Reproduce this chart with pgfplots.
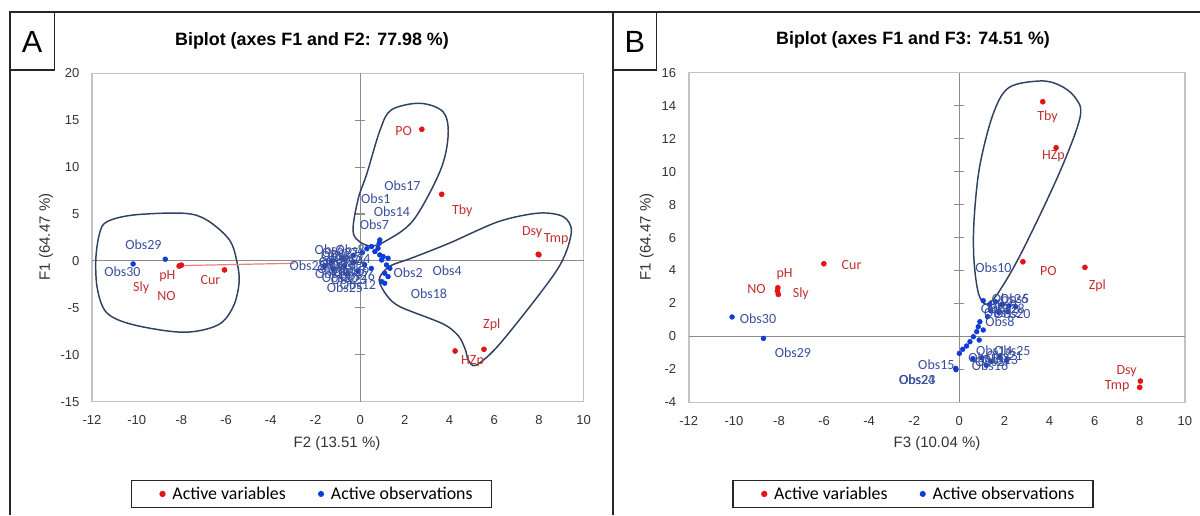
\documentclass[border=0pt]{standalone}
\usepackage{pgfplots}
\pgfplotsset{compat=1.18}
\usepackage{fontspec}
\setmainfont{Carlito}
\newfontfamily\arial{Liberation Sans}
\definecolor{varred}{RGB}{228,20,20}
\definecolor{varlab}{RGB}{196,48,48}
\definecolor{obsblue}{RGB}{16,60,214}
\definecolor{obslab}{RGB}{58,80,158}
\definecolor{loopc}{RGB}{48,66,98}
\definecolor{framegray}{RGB}{195,195,195}
\definecolor{axgray}{RGB}{140,140,140}
\tikzset{loopst/.style={loopc, line width=1.1pt}, axln/.style={axgray, line width=0.8pt}}
\pgfplotsset{
  biplot/.style={
    anchor=south west, scale only axis, clip=false,
    axis line style={framegray, line width=1.1pt},
    tick style={draw=none}, major tick length=0pt,
    tick label style={font=\arial\fontsize{9.75}{10}\selectfont, text=black!80},
    /pgf/number format/assume math mode=true,
    xticklabel style={yshift=-7pt},
    yticklabel style={xshift=-6pt},
    legend columns=2,
    legend cell align=left,
    legend image code/.code={\path (-12pt,0pt) (4pt,0pt); \draw[##1] plot coordinates {(0pt,0pt)};},
    legend style={anchor=center, draw=black!85, line width=0.9pt,
      font=\fontsize{13.4}{14}\selectfont, inner xsep=11pt, inner ysep=2.5pt,
      nodes={inner xsep=3pt},
      /tikz/every even column/.append style={column sep=11pt}},
  },
  obslabs/.style={only marks, mark=none, forget plot, nodes near coords, point meta=explicit symbolic,
    nodes near coords style={anchor=center, inner sep=0pt, font=\fontsize{10.5}{10.5}\selectfont, text=obslab}},
  varlabs/.style={only marks, mark=none, forget plot, nodes near coords, point meta=explicit symbolic,
    nodes near coords style={anchor=center, inner sep=0pt, font=\fontsize{10.5}{10.5}\selectfont, text=varlab}},
}
\begin{document}
\begin{tikzpicture}[x=1pt,y=1pt]
\path[use as bounding box] (0,0) rectangle (900,386.25);
\fill[white] (0,0) rectangle (900,386.25);
% ---------------- Panel A ----------------
\begin{axis}[biplot, at={(69pt,85pt)}, width=368.7pt, height=246.3pt,
  xmin=-12, xmax=10, ymin=-15, ymax=20,
  xtick={-12,-10,...,10}, ytick={-15,-10,...,20},
  legend style={at={(0.446,-0.281)}}]
\draw[axln] (axis cs:0,-15) -- (axis cs:0,20);
\draw[axln] (axis cs:-12,0) -- (axis cs:10,0);
\pgfplotsinvokeforeach{-10,-5,5,10,15}{\draw[axln] ([xshift=-3.75pt]axis cs:0,#1) -- ([xshift=3.75pt]axis cs:0,#1);}
% loops
\draw[loopst] plot[smooth cycle, tension=0.55] coordinates {(-11.32,4.19) (-10.12,4.90) (-7.90,5.08) (-6.87,4.37) (-5.85,2.24) (-5.50,-0.25) (-5.42,-2.38) (-5.68,-4.87) (-6.36,-6.82) (-7.90,-7.60) (-10.12,-6.82) (-11.32,-5.57) (-11.75,-3.09) (-11.83,0.11) (-11.66,2.95)};
\draw[loopst] plot[smooth cycle, tension=0.55] coordinates {(2.67,16.8) (3.71,15.9) (3.94,13.5) (3.6,9.7) (2.4,4.4) (1.2,2.2) (0.4,1.6) (-0.3,2.9) (-0.1,6.5) (0.3,9.3) (0.9,14.0) (1.4,16.1)};
\draw[loopst] plot[smooth cycle, tension=0.5] coordinates {(0.85,-2.0) (1.3,-0.6) (2.3,0.3) (4.0,1.9) (6.2,4.2) (8.0,5.1) (9.1,4.7) (9.45,3.0) (8.8,-1.0) (6.3,-8.7) (5.2,-11.1) (4.85,-10.6) (4.7,-9.4) (4.4,-8.0) (3.7,-6.7) (1.8,-4.9) (1.2,-3.7)};
% red line
\addplot[forget plot, color=varred!55, line width=0.9pt] coordinates {(-8.07,-0.5) (-2.93,-0.25)};
% variables
\addplot[only marks, mark=*, mark size=1.9pt, color=varred] table {
x y
2.76 14.03
3.65 7.10
7.97 0.71
8.00 0.65
4.25 -9.60
5.54 -9.42
-6.07 -0.96
-8.07 -0.50
-8.00 -0.45
-8.10 -0.55
};
% observations
\addplot[only marks, mark=*, mark size=1.8pt, color=obsblue] table {
x y
0.88 2.24
0.85 1.88
0.80 1.35
0.51 1.53
0.66 1.00
0.88 0.64
1.03 0.46
1.25 0.29
0.96 0.10
1.18 -0.43
1.33 -0.78
1.10 -1.31
1.25 -1.67
0.96 -2.20
1.10 -2.38
0.30 1.30
0.10 0.90
-0.30 0.60
-0.80 0.30
-1.30 0.00
-1.60 -0.50
-1.20 -0.90
-0.70 -0.50
-0.30 -0.20
0.20 -0.40
-0.10 -1.10
-0.60 -1.40
0.50 -0.80
-8.72 0.18
-10.16 -0.32
};
\addplot[obslabs] table[meta=label] {
x y label
1.89 7.99 Obs17
0.70 6.68 Obs1
1.42 5.25 Obs14
0.64 3.84 Obs7
2.15 -1.25 Obs2
3.89 -1.03 Obs4
3.08 -3.52 Obs18
-9.70 1.71 Obs29
-10.64 -1.20 Obs30
-1.38 1.17 Obs6
-0.45 1.15 Obs8
-2.35 -0.50 Obs22
-1.10 0.55 Obs3
-0.60 0.45 Obs5
-1.20 -0.10 Obs9
-0.70 0.00 Obs10
-0.50 -0.50 Obs11
-1.10 -0.80 Obs13
-0.60 -1.00 Obs15
-1.20 -1.40 Obs16
-0.40 -1.20 Obs19
-0.90 -1.80 Obs20
-0.50 -2.00 Obs23
-0.15 -1.55 Obs26
-0.10 -2.50 Obs12
-0.68 -2.90 Obs25
-0.90 0.90 Obs27
-1.00 -0.45 Obs28
-0.35 0.20 Obs24
};
\addplot[varlabs] table[meta=label] {
x y label
1.95 13.85 PO
4.57 5.33 Tby
7.70 3.06 Dsy
8.77 2.34 Tmp
5.89 -6.82 Zpl
5.03 -10.73 HZp
-8.63 -1.60 pH
-6.70 -2.00 Cur
-9.80 -2.90 Sly
-8.67 -3.73 NO
};
\legend{Active variables, Active observations}
\end{axis}
% ---------------- Panel B ----------------
\begin{axis}[biplot, at={(516.6pt,84.5pt)}, width=372pt, height=247.2pt,
  xmin=-12, xmax=10, ymin=-4, ymax=16,
  xtick={-12,-10,...,10}, ytick={-4,-2,...,16},
  legend style={at={(0.452,-0.278)}}]
\draw[axln] (axis cs:0,-4) -- (axis cs:0,16);
\draw[axln] (axis cs:-12,0) -- (axis cs:10,0);
\pgfplotsinvokeforeach{-2,2,4,6,8,10,12,14}{\draw[axln] ([xshift=-3.75pt]axis cs:0,#1) -- ([xshift=3.75pt]axis cs:0,#1);}
\draw[loopst] plot[smooth cycle, tension=0.55] coordinates {(3.59,15.5) (4.43,15.25) (5.11,14.54) (5.36,13.33) (4.43,9.9) (2.74,5.04) (1.7,2.6) (1.2,1.95) (0.85,2.6) (0.65,4.6) (0.65,7.0) (0.9,10.3) (1.5,13.5) (2.2,15.1)};
\addplot[only marks, mark=*, mark size=1.9pt, color=varred] table {
x y
3.70 14.24
4.29 11.45
2.82 4.53
5.57 4.19
-6.01 4.41
-8.05 2.95
-8.07 2.75
-8.03 2.55
8.03 -2.71
8.00 -3.09
};
\addplot[only marks, mark=*, mark size=1.8pt, color=obsblue] table {
x y
1.06 2.17
1.35 1.95
1.60 2.10
1.90 1.95
2.20 1.85
2.50 1.80
1.40 1.55
1.75 1.45
2.15 1.50
1.25 1.20
0.91 0.89
0.84 0.59
1.06 0.39
0.77 0.29
0.62 -0.02
0.47 -0.32
0.88 -0.22
0.32 -0.58
0.15 -0.78
0.00 -1.03
0.60 -1.35
1.00 -1.30
1.40 -1.50
1.80 -1.25
2.10 -1.45
1.20 -1.75
-0.16 -1.94
-0.15 -2.02
-10.08 1.18
-8.69 -0.12
};
\addplot[obslabs] table[meta=label] {
x y label
-8.93 1.10 Obs30
-7.38 -0.99 Obs29
1.51 4.17 Obs10
-1.02 -1.69 Obs15
-1.88 -2.60 Obs24
-1.86 -2.64 Obs23
2.25 2.27 Obs26
2.45 2.27 Obs5
1.90 1.90 Obs9
2.10 1.70 Obs28
1.60 1.70 Obs3
1.90 1.45 Obs12
2.35 1.36 Obs20
1.80 0.90 Obs8
1.55 -0.88 Obs14
2.35 -0.88 Obs25
1.36 -1.78 Obs16
1.20 -1.30 Obs11
1.80 -1.40 Obs13
1.50 -1.55 Obs27
2.00 -1.20 Obs21
};
\addplot[varlabs] table[meta=label] {
x y label
3.91 13.33 Tby
4.17 10.96 HZp
3.95 3.98 PO
6.12 3.06 Zpl
-4.78 4.33 Cur
-7.75 3.75 pH
-9.00 2.87 NO
-7.03 2.57 Sly
7.42 -2.10 Dsy
7.00 -3.00 Tmp
};
\legend{Active variables, Active observations}
\end{axis}
% ---------------- frames, titles, labels ----------------
\draw[black!85, line width=1.5pt] (7.2,0) -- (7.2,377.5) -- (900,377.5);
\draw[black!85, line width=1.5pt] (459.9,0) -- (459.9,377.5);
\draw[black!85, line width=1.2pt] (7.2,333.75) -- (41,333.75) -- (41,377.5);
\draw[black!85, line width=1.2pt] (459.9,333.75) -- (492.5,333.75) -- (492.5,377.5);
\node[font=\arial\fontsize{23}{23}\selectfont] at (24,355) {A};
\node[font=\arial\fontsize{23}{23}\selectfont] at (476.2,355) {B};
\node[font=\arial\bfseries\fontsize{13.4}{14}\selectfont] at (234,355.5) {Biplot (axes F1 and F2: 77.98 \%)};
\node[font=\arial\bfseries\fontsize{13.4}{14}\selectfont] at (684.75,356.25) {Biplot (axes F1 and F3: 74.51 \%)};
\node[font=\arial\fontsize{11.25}{12}\selectfont, text=black!80] at (252.75,53.25) {F2 (13.51 \%)};
\node[font=\arial\fontsize{11.25}{12}\selectfont, text=black!80] at (702.75,53.25) {F3 (10.04 \%)};
\node[font=\arial\fontsize{11.25}{12}\selectfont, text=black!80, rotate=90] at (34.5,208.5) {F1 (64.47 \%)};
\node[font=\arial\fontsize{11.25}{12}\selectfont, text=black!80, rotate=90] at (485,208.5) {F1 (64.47 \%)};
\end{tikzpicture}
\end{document}
